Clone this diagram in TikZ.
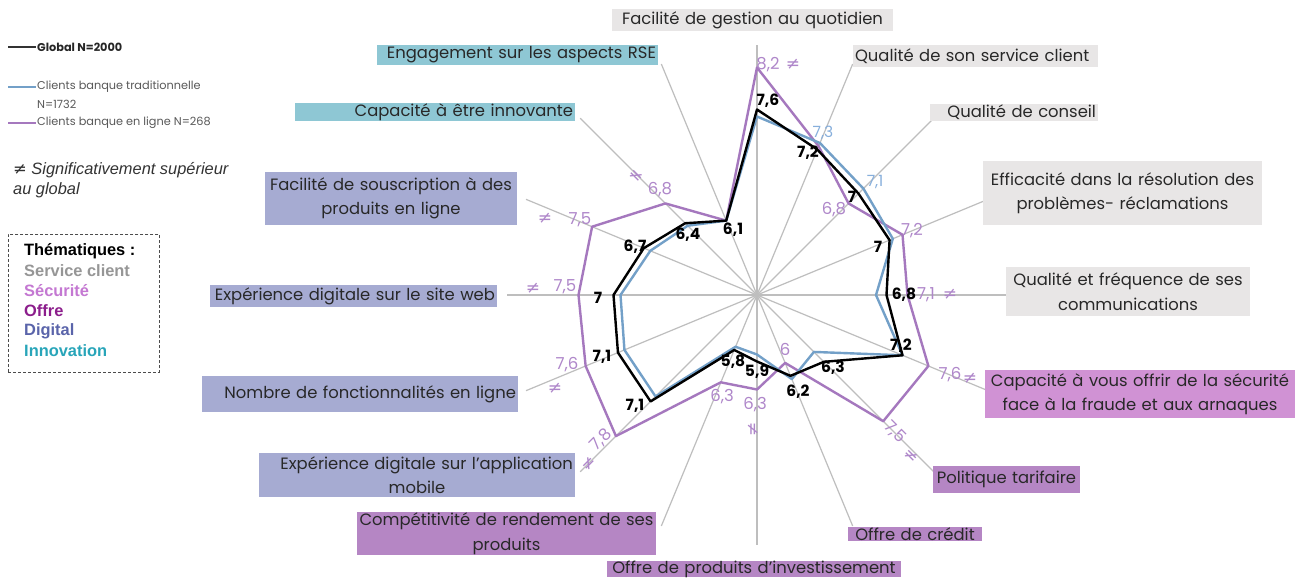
\documentclass[tikz,border=0pt]{standalone}
\usepackage{fontspec}
\setmainfont{Poppins}
\newfontfamily\arialf{Liberation Sans}
\newfontfamily\sym{DejaVu Sans}
\usetikzlibrary{calc}
\definecolor{cgray}{RGB}{232,230,230}
\definecolor{csecu}{RGB}{208,146,212}
\definecolor{coffre}{RGB}{181,134,196}
\definecolor{cdigi}{RGB}{166,171,210}
\definecolor{cinno}{RGB}{142,199,212}
\definecolor{onl}{RGB}{165,120,190}
\definecolor{onltxt}{RGB}{175,135,202}
\definecolor{trad}{RGB}{115,160,200}
\definecolor{tradtxt}{RGB}{135,175,220}
\definecolor{spk}{RGB}{190,190,190}
\definecolor{labtxt}{RGB}{40,40,40}
\definecolor{lgserv}{RGB}{150,150,150}
\definecolor{lgsecu}{RGB}{196,120,210}
\definecolor{lgoffre}{RGB}{140,30,140}
\definecolor{lgdigi}{RGB}{90,100,170}
\definecolor{lginno}{RGB}{40,165,185}
\pgfmathdeclarefunction{rv}{1}{\pgfmathparse{70*(#1-4.95)}}
\begin{document}
\begin{tikzpicture}[x=1pt,y=-1pt,
  lab/.style={font=\fontsize{16.4}{24.5}\selectfont, text=labtxt, inner xsep=2pt, inner ysep=0pt, anchor=center},
  spoke/.style={draw=spk, line width=1.2pt},
  gline/.style={draw=black, line width=2.4pt, line join=round},
  tline/.style={draw=trad, line width=2.4pt, line join=round},
  oline/.style={draw=onl, line width=2.4pt, line join=round},
  gv/.style={font=\fontsize{15.5}{15.5}\selectfont\bfseries, text=black, inner sep=0pt},
  ov/.style={font=\fontsize{16.5}{16.5}\selectfont, text=onltxt, inner sep=0pt},
  tv/.style={font=\fontsize{15.5}{15.5}\selectfont, text=tradtxt, inner sep=0pt},
  ne/.style={font=\sym\fontsize{17}{17}\selectfont, text=onltxt, inner sep=0pt},
  thm/.style={anchor=west, font=\arialf\bfseries\fontsize{16.4}{17}\selectfont, inner sep=0pt},
  lgt/.style={anchor=west, font=\fontsize{11.3}{12}\selectfont, text=black!65, inner sep=1pt}
]
\useasboundingbox (0,0) rectangle (1306,579);
\fill[white] (0,0) rectangle (1306,579);

% radar
\coordinate (O) at (757,295);
\begin{scope}[shift={(757,295)}]
\foreach \i in {0,...,15}{
  \coordinate (e\i) at (22.5*\i-90:250);
  \draw[spoke] (O) -- (e\i);
}
\draw[oline] (-90:{rv(8.2)}) -- (-67.5:{rv(7.25)}) -- (-45:{rv(6.8)}) -- (-22.5:{rv(7.2)}) -- (0:{rv(7.1)}) -- (22.5:{rv(7.6)}) -- (45:{rv(7.5)}) -- (67.5:{rv(6.0)}) -- (90:{rv(6.3)}) -- (112.5:{rv(6.3)}) -- (135:{rv(7.8)}) -- (157.5:{rv(7.6)}) -- (180:{rv(7.5)}) -- (202.5:{rv(7.5)}) -- (225:{rv(6.8)}) -- (247.5:{rv(6.1)}) -- cycle;
\draw[tline] (-90:{rv(7.5)}) -- (-67.5:{rv(7.3)}) -- (-45:{rv(7.1)}) -- (-22.5:{rv(7.05)}) -- (0:{rv(6.65)}) -- (22.5:{rv(7.2)}) -- (45:{rv(6.1)}) -- (67.5:{rv(6.25)}) -- (90:{rv(5.8)}) -- (112.5:{rv(5.75)}) -- (135:{rv(7.0)}) -- (157.5:{rv(7.0)}) -- (180:{rv(6.9)}) -- (202.5:{rv(6.6)}) -- (225:{rv(6.35)}) -- (247.5:{rv(6.1)}) -- cycle;
\draw[gline] (-90:{rv(7.6)}) -- (-67.5:{rv(7.2)}) -- (-45:{rv(7.0)}) -- (-22.5:{rv(7.0)}) -- (0:{rv(6.8)}) -- (22.5:{rv(7.2)}) -- (45:{rv(6.3)}) -- (67.5:{rv(6.2)}) -- (90:{rv(5.9)}) -- (112.5:{rv(5.8)}) -- (135:{rv(7.1)}) -- (157.5:{rv(7.1)}) -- (180:{rv(7.0)}) -- (202.5:{rv(6.7)}) -- (225:{rv(6.4)}) -- (247.5:{rv(6.1)}) -- cycle;
\end{scope}

% axis labels
\node[lab, fill=cgray, minimum width=281, minimum height=22, text width=277, align=center] (L0) at (752.5,20) {Facilité de gestion au quotidien};
\node[lab, fill=cgray, minimum width=245, minimum height=22, text width=241, align=left] (L1) at (975.5,56) {Qualité de son service client};
\node[lab, fill=cgray, minimum width=168, minimum height=17, text width=164, align=right] (L2) at (1014,112.5) {Qualité de conseil};
\node[lab, fill=cgray, minimum width=279, minimum height=64, text width=275, align=center] (L3) at (1122.5,193) {Efficacité dans la résolution des\\problèmes- réclamations};
\node[lab, fill=cgray, minimum width=244, minimum height=49, text width=240, align=center] (L4) at (1128,291.5) {Qualité et fréquence de ses\\communications};
\node[lab, fill=csecu, minimum width=310, minimum height=48, text width=306, align=center] (L5) at (1140,394) {Capacité à vous offrir de la sécurité\\face à la fraude et aux arnaques};
\node[lab, fill=coffre, minimum width=147, minimum height=27, text width=143, align=center] (L6) at (1006.5,479.5) {Politique tarifaire};
\node[lab, fill=coffre, minimum width=134, minimum height=14, text width=130, align=center] (L7) at (915,534) {Offre de crédit};
\node[lab, fill=coffre, minimum width=294, minimum height=16, text width=290, align=center] (L8) at (754,569) {Offre de produits d’investissement};
\node[lab, fill=coffre, minimum width=299, minimum height=43, text width=295, align=center] (L9) at (506.5,533.5) {Compétitivité de rendement de ses\\produits};
\node[lab, fill=cdigi, minimum width=316, minimum height=44, text width=312, align=center] (L10) at (417,475) {\hfill Expérience digitale sur l’application\\mobile};
\node[lab, fill=cdigi, minimum width=316, minimum height=36, text width=312, align=right] (L11) at (360,394) {Nombre de fonctionnalités en ligne};
\node[lab, fill=cdigi, minimum width=287, minimum height=22, text width=283, align=right] (L12) at (353.5,296) {Expérience digitale sur le site web};
\node[lab, fill=cdigi, minimum width=252, minimum height=53, text width=248, align=center] (L13) at (391,198.5) {Facilité de souscription à des\\produits en ligne};
\node[lab, fill=cinno, minimum width=280, minimum height=18, text width=276, align=right] (L14) at (435,112) {Capacité à être innovante};
\node[lab, fill=cinno, minimum width=281, minimum height=20, text width=277, align=right] (L15) at (517.5,55) {Engagement sur les aspects RSE};

% global values
\node[gv] (g0) at (768,101) {7,6};
\node[gv] (g1) at (808,153) {7,2};
\node[gv] (g2) at (852,197) {7};
\node[gv] (g3) at (878,247) {7};
\node[gv] (g4) at (904,295) {6,8};
\node[gv] (g5) at (901,346) {7,2};
\node[gv] (g6) at (833,368) {6,3};
\node[gv] (g7) at (798,392) {6,2};
\node[gv] (g8) at (757,372) {5,9};
\node[gv] (g9) at (733,362) {5,8};
\node[gv] (g10) at (635,406) {7,1};
\node[gv] (g11) at (602,357) {7,1};
\node[gv] (g12) at (598,298) {7};
\node[gv] (g13) at (635,247) {6,7};
\node[gv] (g14) at (688,235) {6,4};
\node[gv] (g15) at (733,230) {6,1};

% traditional values
\node[tv] (t1) at (823,133) {7,3};
\node[tv] (t2) at (875,182) {7,1};

% online values
\node[ov] (o0) at (768,65) {8,2};
\node[ne] (n0) at (793,64) {≠};
\node[ov] (o2) at (834,210) {6,8};
\node[ov] (o3) at (912,231) {7,2};
\node[ov] (o4) at (926,295) {7,1};
\node[ne] (n4) at (950,294) {≠};
\node[ov] (o5) at (950,375) {7,6};
\node[ne] (n5) at (970,378) {≠};
\node[ov, rotate=-45] (o6) at (895,432) {7,5};
\node[ne, rotate=-45] (n6) at (911,456) {≠};
\node[ov] (o7) at (785,349) {6};
\node[ov] (o8) at (755,405) {6,3};
\node[ne, rotate=90] (n8) at (753,429) {≠};
\node[ov] (o9) at (722,397) {6,3};
\node[ov, rotate=45] (o10) at (601,440) {7,8};
\node[ne, rotate=45] (n10) at (589,464) {≠};
\node[ov] (o11) at (567,365) {7,6};
\node[ne] (n11) at (555,388) {≠};
\node[ov] (o12) at (565,287) {7,5};
\node[ne] (n12) at (533,288) {≠};
\node[ov] (o13) at (580,220) {7,5};
\node[ne] (n13) at (545,218) {≠};
\node[ov] (o14) at (660,190) {6,8};
\node[ne, rotate=-45] (n14) at (636,176) {≠};

% legend
\node[lgt, font=\fontsize{11.3}{12}\selectfont\bfseries, text=black!85] (lg1) at (36,47) {Global N=2000};
\draw[black!80, line width=1.6pt] ([xshift=-28pt]lg1.west) -- (lg1.west);
\node[lgt] (lg2) at (36,87) {Clients banque traditionnelle};
\draw[trad, line width=1.2pt] ([xshift=-28pt]lg2.west) -- (lg2.west);
\node[lgt] (lg2b) at (36,104) {N=1732};
\node[lgt] (lg3) at (36,123) {Clients banque en ligne N=268};
\draw[onl, line width=1.2pt] ([xshift=-28pt]lg3.west) -- (lg3.west);
\node[anchor=west, align=left, inner sep=0pt, text=black!80, font=\arialf\itshape\fontsize{16.4}{20}\selectfont] (sig) at (13,180) {{\sym\itshape ≠} Significativement supérieur\\au global};

\node[draw=black!70, dash pattern=on 3pt off 2pt, line width=0.9pt, minimum width=151, minimum height=138, anchor=north west, inner sep=0pt] (leg) at (8,234) {};
\node[thm, text=black] (th0) at (24,251) {Thématiques :};
\node[thm, text=lgserv] (th1) at (24,271) {Service client};
\node[thm, text=lgsecu] (th2) at (24,291) {Sécurité};
\node[thm, text=lgoffre] (th3) at (24,311) {Offre};
\node[thm, text=lgdigi] (th4) at (24,331) {Digital};
\node[thm, text=lginno] (th5) at (24,351) {Innovation};
\end{tikzpicture}
\end{document}
